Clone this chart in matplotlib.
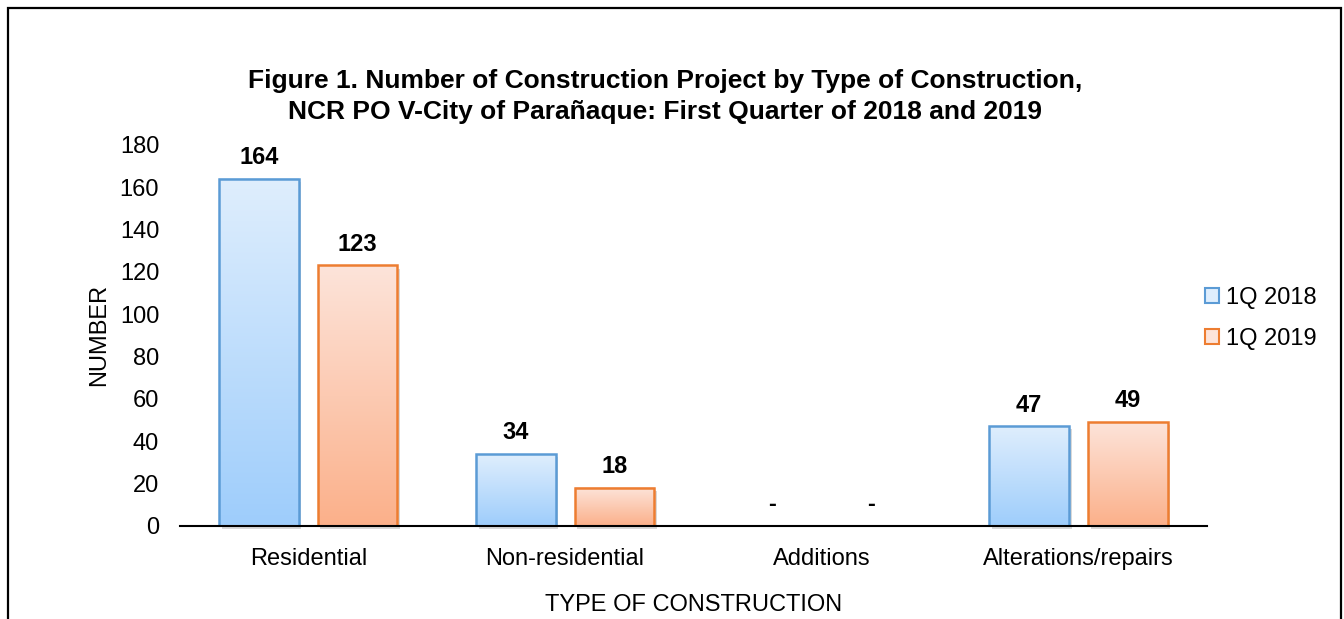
import matplotlib.pyplot as plt
import numpy as np
from matplotlib.patches import Patch, Rectangle
from matplotlib.colors import LinearSegmentedColormap

plt.rcParams['font.family'] = ['Liberation Sans', 'DejaVu Sans']

categories = ["Residential", "Non-residential", "Additions", "Alterations/repairs"]
series_names = ["1Q 2018", "1Q 2019"]
q1_2018 = [164, 34, 0, 47]
q1_2019 = [123, 18, 0, 49]

edge_colors = ["#5B9BD5", "#ED7D31"]
grad_colors = [("#DFEEFD", "#9ECDFB"), ("#FDE4DA", "#FBB08A")]

fig = plt.figure(figsize=(13.44, 6.19), dpi=100)
ax = fig.add_axes([0.1339, 0.1507, 0.7641, 0.6155])

x = np.arange(len(categories))
width = 0.31
offsets = [-0.192, 0.192]

for vals, off, ec, (c_top, c_bot), name in zip([q1_2018, q1_2019], offsets, edge_colors, grad_colors, series_names):
    bars = ax.bar(x + off, vals, width, facecolor="none", edgecolor=ec, linewidth=1.8, zorder=3, label=name)
    cmap = LinearSegmentedColormap.from_list("g", [c_bot, c_top])
    grad = np.linspace(0, 1, 256).reshape(-1, 1)
    for b, v in zip(bars, vals):
        if v > 0:
            x0 = b.get_x()
            ax.imshow(grad, cmap=cmap, aspect="auto", origin="lower",
                      extent=[x0, x0 + b.get_width(), 0, v], zorder=2)
            # soft shadow
            ax.add_patch(Rectangle((x0 + 0.01, -1.5), b.get_width(), v, facecolor="#000000",
                                   alpha=0.15, edgecolor="none", zorder=1, clip_on=False))
        label = str(v) if v > 0 else "-"
        ax.annotate(label, (b.get_x() + b.get_width() / 2, v), xytext=(0, 7),
                    textcoords="offset points", ha="center", va="bottom",
                    fontsize=17, fontweight="bold")

ax.set_xlim(-0.5, len(categories) - 0.5)
ax.set_ylim(0, 180)
ax.set_yticks(range(0, 181, 20))
ax.set_xticks(x)
ax.set_xticklabels(categories)
ax.tick_params(axis="both", length=0, labelsize=17)
ax.tick_params(axis="x", pad=16)
ax.tick_params(axis="y", pad=15)
for s in ["top", "right", "left"]:
    ax.spines[s].set_visible(False)
ax.spines["bottom"].set_linewidth(1.5)
ax.spines["bottom"].set_zorder(4)

ax.set_ylabel("NUMBER", fontsize=17, labelpad=7)
ax.set_xlabel("TYPE OF CONSTRUCTION", fontsize=17, labelpad=17)

fig.text(0.495, 0.8, "Figure 1. Number of Construction Project by Type of Construction,\nNCR PO V-City of Parañaque: First Quarter of 2018 and 2019",
         ha="center", va="bottom", fontsize=19, fontweight="bold", linespacing=1.35)

handles = [Patch(facecolor=grad_colors[i][0], edgecolor=edge_colors[i], linewidth=1.5) for i in range(2)]
ax.legend(handles, series_names, loc="center left", bbox_to_anchor=(0.977, 0.545), frameon=False,
          fontsize=17, handlelength=0.6, handleheight=0.6, handletextpad=0.3, labelspacing=0.8)

fig.add_artist(Rectangle((8 / 1344, -0.05), (1341 - 8) / 1344, 1.05 - 8 / 619, transform=fig.transFigure,
                         facecolor="none", edgecolor="black", linewidth=1.6))

fig.savefig("out.png", dpi=100)
